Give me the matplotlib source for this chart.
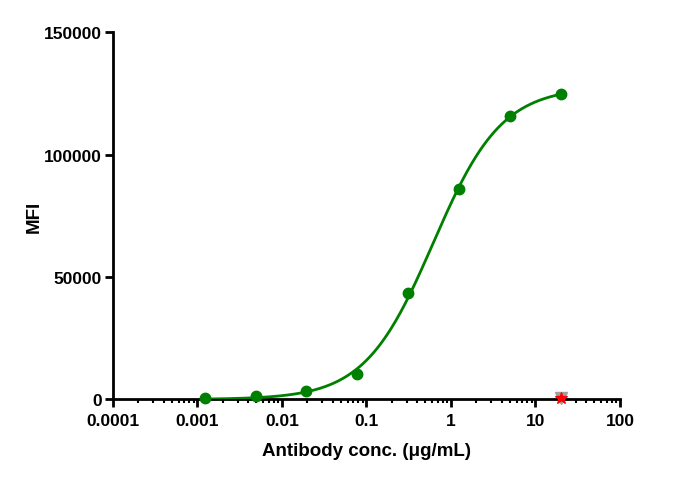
import numpy as np
import matplotlib
matplotlib.use("Agg")
import matplotlib.pyplot as plt
from matplotlib.ticker import LogLocator, FixedLocator, NullFormatter

plt.rcParams['font.family'] = ['Liberation Sans', 'DejaVu Sans']

conc = [20, 5, 1.25, 0.3125, 0.078125, 0.01953, 0.004883, 0.001221]
mfi = [124700, 115700, 85800, 43300, 10200, 3300, 1200, 400]
ctrl_conc = [20]
ctrl_mfi = [300]
xticks = [0.0001, 0.001, 0.01, 0.1, 1, 10, 100]
xticklabels = ["0.0001", "0.001", "0.01", "0.1", "1", "10", "100"]
yticks = [0, 50000, 100000, 150000]

x = np.array(conc, float)
y = np.array(mfi, float)

# 4PL fit by grid search (linear solve for bottom/top)
best = None
for lec in np.linspace(-1.5, 0.5, 201):
    for h in np.linspace(0.6, 1.8, 121):
        f = 1.0 / (1.0 + (10**lec / x) ** h)
        A = np.vstack([1 - f, f]).T
        coef, *_ = np.linalg.lstsq(A, y, rcond=None)
        r = np.sum((A @ coef - y) ** 2)
        if best is None or r < best[0]:
            best = (r, lec, h, coef)
_, lec, h, (bot, top) = best
xs = np.logspace(np.log10(x.min()), np.log10(x.max()), 400)
ys = bot + (top - bot) / (1.0 + (10**lec / xs) ** h)

fig = plt.figure(figsize=(6.76, 4.81), dpi=100)
ax = fig.add_axes([0.167, 0.168, 0.750, 0.763])
green = '#008000'
ax.plot(xs, ys, color=green, lw=2, zorder=3)
ax.plot(x, y, 'o', color=green, ms=7.5, zorder=4, clip_on=False)
ax.plot(ctrl_conc, ctrl_mfi, 'v', color='#a0a0a0', ms=8, zorder=5, clip_on=False)
ax.plot(ctrl_conc, ctrl_mfi, '*', color='#ff0000', ms=9, zorder=6, clip_on=False)

ax.set_xscale('log')
ax.set_xlim(0.0001, 100)
ax.set_ylim(0, 150000)
ax.xaxis.set_major_locator(FixedLocator(xticks))
ax.set_xticklabels(xticklabels)
ax.xaxis.set_minor_locator(LogLocator(base=10, subs=np.arange(2, 10), numticks=20))
ax.xaxis.set_minor_formatter(NullFormatter())
ax.set_yticks(yticks)
ax.set_yticklabels([str(v) for v in yticks])

for s in ['top', 'right']:
    ax.spines[s].set_visible(False)
for s in ['left', 'bottom']:
    ax.spines[s].set_linewidth(2)
ax.tick_params(which='major', length=6, width=2, direction='out', labelsize=12.5, pad=4)
ax.tick_params(axis='y', which='major', pad=2)
ax.tick_params(which='minor', length=3, width=1.5, direction='out')
for lab in ax.get_xticklabels() + ax.get_yticklabels():
    lab.set_fontweight('bold')

ax.set_xlabel('Antibody conc. (μg/mL)', fontsize=13.5, fontweight='bold', labelpad=10)
ax.set_ylabel('MFI', fontsize=13.5, fontweight='bold', labelpad=1)

fig.savefig('out.png', dpi=100)
